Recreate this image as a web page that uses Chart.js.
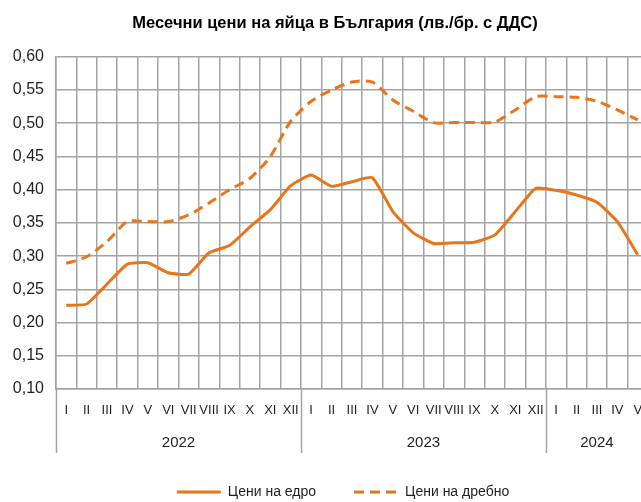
<!DOCTYPE html>
<html>
<head>
<meta charset="utf-8">
<script src="https://cdn.jsdelivr.net/npm/chart.js@4.4.1/dist/chart.umd.min.js"></script>
<style>
  html, body { margin: 0; padding: 0; background: #fff; overflow: hidden; }
  #wrap { position: relative; width: 670px; height: 502px; }
</style>
</head>
<body>
<div id="wrap"><canvas id="c" width="670" height="502"></canvas></div>
<script>
// ---- data ----
const titleText = 'Месечни цени на яйца в България (лв./бр. с ДДС)';
const monthsRoman = ['I','II','III','IV','V','VI','VII','VIII','IX','X','XI','XII'];
const years = ['2022', '2023', '2024'];
const monthsPerYear = [12, 12, 5];
const seriesNames = ['Цени на едро', 'Цени на дребно'];
const wholesale = [0.226,0.228,0.258,0.288,0.290,0.275,0.273,0.305,0.316,0.344,0.370,0.406,
                   0.422,0.405,0.412,0.418,0.367,0.335,0.319,0.320,0.321,0.332,0.367,0.402,
                   0.399,0.392,0.381,0.352,0.302];
const retail = [0.289,0.299,0.322,0.352,0.352,0.352,0.362,0.380,0.400,0.417,0.450,0.503,
                0.533,0.550,0.562,0.562,0.535,0.518,0.501,0.501,0.501,0.502,0.520,0.540,
                0.540,0.539,0.533,0.520,0.505];

// categories built from arrays
const categories = [];
monthsPerYear.forEach(n => { for (let i = 0; i < n; i++) categories.push(monthsRoman[i]); });

const FONT = "'Liberation Sans', Arial, sans-serif";
const ORANGE = '#E8751A';
const GRID = '#a3a3a3';
const TXT = '#1f1f1f';

const yearPlugin = {
  id: 'yearRow',
  afterLayout(chart) {
    // the original figure is centred on a slightly wider frame
    if (chart.titleBlock) { chart.titleBlock.left += 11; chart.titleBlock.right += 11; }
    if (chart.legend) { chart.legend.left += 19; chart.legend.right += 19; }
  },
  afterDraw(chart) {
    const x = chart.scales.x;
    const area = chart.chartArea;
    const ctx = chart.ctx;
    const step = x.getPixelForValue(1) - x.getPixelForValue(0);
    ctx.save();
    ctx.strokeStyle = GRID;
    ctx.lineWidth = 1.5;
    ctx.fillStyle = TXT;
    ctx.font = '15px ' + FONT;
    ctx.textAlign = 'center';
    ctx.textBaseline = 'middle';
    let start = 0;
    years.forEach((yr, i) => {
      const n = monthsPerYear[i];
      const left = x.getPixelForValue(start) - step / 2;
      ctx.beginPath();
      ctx.moveTo(Math.round(left) + 0.5, area.bottom);
      ctx.lineTo(Math.round(left) + 0.5, area.bottom + 64);
      ctx.stroke();
      const cx = (x.getPixelForValue(start) + x.getPixelForValue(start + n - 1)) / 2;
      ctx.fillText(yr, cx, area.bottom + 54);
      start += n;
    });
    ctx.restore();
  }
};

new Chart(document.getElementById('c'), {
  type: 'line',
  data: {
    labels: categories,
    datasets: [
      { label: seriesNames[0], data: wholesale, borderColor: ORANGE, backgroundColor: ORANGE,
        borderWidth: 3, pointRadius: 0, tension: 0.15 },
      { label: seriesNames[1], data: retail, borderColor: ORANGE, backgroundColor: ORANGE,
        borderWidth: 3, borderDash: [10, 6], pointRadius: 0, tension: 0.25 }
    ]
  },
  options: {
    responsive: false,
    animation: false,
    layout: { padding: { left: 0, right: 22, top: 0, bottom: -7 } },
    plugins: {
      title: {
        display: true, text: titleText, color: '#000',
        font: { family: FONT, size: 16.5, weight: 'bold' },
        padding: { top: 14, bottom: 23 }
      },
      legend: {
        position: 'bottom',
        labels: {
          color: TXT, font: { family: FONT, size: 14 },
          usePointStyle: true, pointStyle: 'line', pointStyleWidth: 44, boxHeight: 14,
          padding: 38,
          generateLabels(chart) {
            const items = Chart.defaults.plugins.legend.labels.generateLabels(chart);
            items.forEach((it, i) => {
              const ds = chart.data.datasets[it.datasetIndex ?? i];
              it.lineDash = ds.borderDash || [];
              it.lineWidth = 3;
              it.strokeStyle = ORANGE;
              it.fillStyle = ORANGE;
              it.pointStyle = 'line';
            });
            return items;
          }
        }
      },
      tooltip: { enabled: false }
    },
    scales: {
      x: {
        type: 'category',
        offset: true,
        grid: { offset: true, color: GRID, lineWidth: 1.5, drawTicks: false },
        border: { color: GRID, width: 1.5 },
        ticks: { autoSkip: false, maxRotation: 0, color: TXT, padding: 14,
                 font: { family: FONT, size: 13 } },
        afterFit(axis) { axis.height = 58; }
      },
      y: {
        min: 0.10, max: 0.60,
        grid: { color: GRID, lineWidth: 1.5, drawTicks: false },
        border: { color: GRID, width: 1.5 },
        ticks: { stepSize: 0.05, color: TXT, padding: 12,
                 font: { family: FONT, size: 16 },
                 callback: v => v.toFixed(2).replace('.', ',') },
        afterFit(axis) { axis.width = 56; }
      }
    }
  },
  plugins: [yearPlugin]
});
</script>
</body>
</html>
